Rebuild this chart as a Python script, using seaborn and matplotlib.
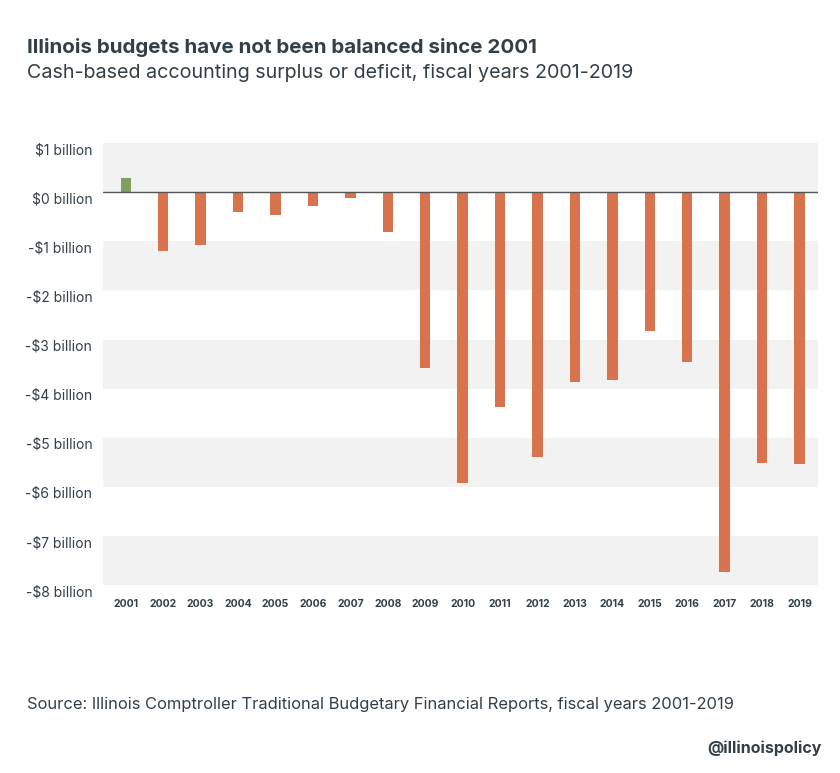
import matplotlib
matplotlib.use("Agg")
import matplotlib.pyplot as plt
import seaborn as sns
import pandas as pd
from matplotlib.transforms import ScaledTranslation

years = [str(y) for y in range(2001, 2020)]
values = [0.28, -1.2, -1.07, -0.41, -0.47, -0.28, -0.12, -0.81, -3.57, -5.92,
          -4.38, -5.4, -3.87, -3.83, -2.82, -3.45, -7.73, -5.52, -5.54]
ytick_vals = [1, 0, -1, -2, -3, -4, -5, -6, -7, -8]
ytick_labels = ["$1 billion", "$0 billion"] + [f"-${i} billion" for i in range(1, 9)]

df = pd.DataFrame({"year": years, "value": values})
df["sign"] = ["pos" if v > 0 else "neg" for v in values]

sns.set_theme(style="white")
plt.rcParams['font.family'] = ['Inter', 'DejaVu Sans']
dark = "#333F48"

fig = plt.figure(figsize=(8.4, 7.73), dpi=100)
ax = fig.add_axes([0.123, 0.243, 0.851, 0.572])
for lo in range(1, -8, -2):
    ax.axhspan(lo - 1, lo, color="#F2F2F2", zorder=0, lw=0)
sns.barplot(data=df, x="year", y="value", hue="sign",
            palette={"pos": "#7FA05F", "neg": "#D9734E"}, width=0.28,
            legend=False, ax=ax, zorder=3, saturation=1, linewidth=0)
ax.axhline(0, color="#555555", lw=1, zorder=4)
ax.set_ylim(-8, 1)
ax.set_xlim(-0.6, 18.5)
ax.set_yticks(ytick_vals)
ax.set_yticklabels(ytick_labels, fontsize=10, color=dark)
off = ScaledTranslation(0, -0.01, fig.dpi_scale_trans)
for t in ax.get_yticklabels():
    t.set_va("top")
    t.set_transform(t.get_transform() + off)
ax.tick_params(axis="x", labelsize=7.5, colors=dark, length=0, pad=10)
ax.tick_params(axis="y", length=0, pad=8)
for lab in ax.get_xticklabels():
    lab.set_fontweight("bold")
ax.set_xlabel("")
ax.set_ylabel("")
for s in ax.spines.values():
    s.set_visible(False)

fig.text(0.032, 0.939, "Illinois budgets have not been balanced since 2001",
         fontsize=14.8, fontweight="bold", color=dark, va="center")
fig.text(0.032, 0.905, "Cash-based accounting surplus or deficit, fiscal years 2001-2019",
         fontsize=14.2, color=dark, va="center")
fig.text(0.032, 0.088, "Source: Illinois Comptroller Traditional Budgetary Financial Reports, fiscal years 2001-2019",
         fontsize=11.9, color=dark, va="center")
fig.text(0.978, 0.032, "@illinoispolicy", fontsize=11.5, fontweight="bold",
         color=dark, va="center", ha="right")
fig.savefig("out.png", dpi=100)
